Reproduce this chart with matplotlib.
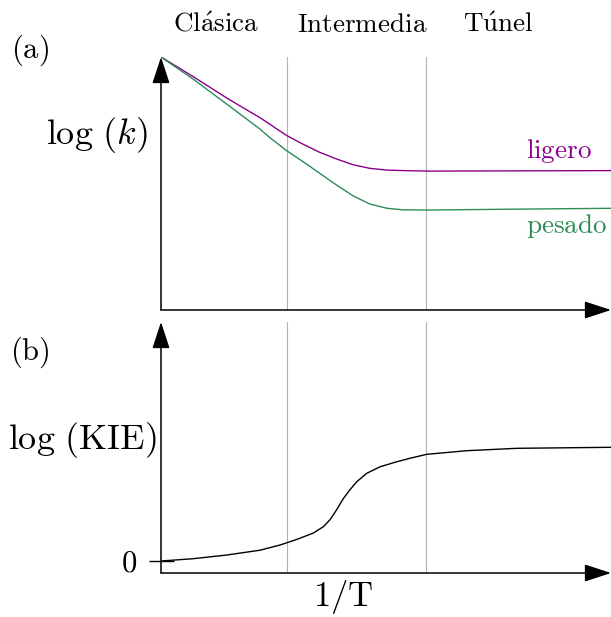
import numpy as np
import matplotlib
matplotlib.use("Agg")
import matplotlib.pyplot as plt

plt.rcParams['mathtext.fontset'] = 'cm'
plt.rcParams['font.family'] = ['cmr10', 'DejaVu Serif']

# 1/T axis runs 0..1, regime boundaries as vertical guides
regimes = [r'$\mathrm{Cl\acute{a}sica}$', r'$\mathrm{Intermedia}$', r'$\mathrm{T\acute{u}nel}$']
regime_x = [0.123, 0.448, 0.749]
bounds = [0.28, 0.589]

# (a) log(k) for light and heavy isotope
x_light = [0.0, 0.072, 0.146, 0.220, 0.242, 0.279, 0.316, 0.353, 0.390, 0.427, 0.464, 0.502,
           0.538, 0.598, 0.80, 1.0]
y_light = [1.0, 0.922, 0.838, 0.760, 0.734, 0.690, 0.655, 0.623, 0.597, 0.574, 0.560, 0.553,
           0.551, 0.549, 0.550, 0.551]
x_heavy = [0.0, 0.072, 0.146, 0.220, 0.242, 0.279, 0.316, 0.353, 0.390, 0.427, 0.464, 0.502,
           0.538, 0.598, 0.753, 1.0]
y_heavy = [1.0, 0.912, 0.814, 0.715, 0.681, 0.630, 0.586, 0.540, 0.494, 0.451, 0.419, 0.402,
           0.396, 0.395, 0.398, 0.402]

# (b) log(KIE)
x_kie = [0.0, 0.071, 0.147, 0.220, 0.264, 0.302, 0.338, 0.361, 0.376, 0.390, 0.405, 0.420,
         0.435, 0.457, 0.487, 0.524, 0.553, 0.590, 0.679, 0.790, 1.0]
y_kie = [0.0, 0.020, 0.053, 0.095, 0.140, 0.190, 0.245, 0.302, 0.365, 0.449, 0.548, 0.627,
         0.697, 0.771, 0.829, 0.873, 0.903, 0.938, 0.970, 0.991, 1.0]

purple = '#8b008b'
green = '#2e8b57'
grey = '#b3b3b3'

fig = plt.figure(figsize=(6.11, 6.17), dpi=100)
ax1 = fig.add_axes([161/611, 1 - 310/617, 450/611, 253/617])
ax2 = fig.add_axes([161/611, 1 - 573/617, 450/611, 251/617])

arrow = dict(arrowstyle='-|>,head_length=1.1,head_width=0.36', mutation_scale=15,
             color='k', lw=1.1, shrinkA=0, shrinkB=0)

for ax in (ax1, ax2):
    for s in ax.spines.values():
        s.set_visible(False)
    ax.set_xlim(0, 1)
    ax.set_xticks([])
    for b in bounds:
        ax.axvline(b, color=grey, lw=0.8, zorder=1)
    ax.annotate('', xy=(0, 1), xytext=(0, 0), xycoords='axes fraction',
                arrowprops=arrow, annotation_clip=False)
    ax.annotate('', xy=(1.0, 0), xytext=(0, 0), xycoords='axes fraction',
                arrowprops=arrow, annotation_clip=False)

ax1.set_ylim(0, 1)
ax1.set_yticks([])
ax1.plot(x_light, y_light, color=purple, lw=1.0, zorder=3)
ax1.plot(x_heavy, y_heavy, color=green, lw=1.0, zorder=3)
ax1.text(0.811, 0.601, r'$\mathrm{ligero}$', color=purple, fontsize=19.5, va='baseline')
ax1.text(0.811, 0.304, r'$\mathrm{pesado}$', color=green, fontsize=19.5, va='baseline')
for lab, xr in zip(regimes, regime_x):
    ax1.text(xr, 1.099, lab, fontsize=19.5, ha='center', va='baseline', clip_on=False)

ax2.set_ylim(-0.1055, 2.102)
ax2.plot(x_kie, y_kie, color='k', lw=1.0, zorder=3)
ax2.set_yticks([0])
ax2.set_yticklabels([r'$0$'], fontsize=22)
ax2.tick_params(axis='y', direction='inout', length=18, width=1.0, pad=8)

fig.text(0.049, 0.919, r'$\mathrm{(a)}$', fontsize=22, ha='center', va='center')
fig.text(0.049, 0.4295, r'$\mathrm{(b)}$', fontsize=22, ha='center', va='center')
fig.text(0.242, 0.781, r'$\log\,(k)$', fontsize=26, ha='right', va='center')
fig.text(0.257, 0.287, r'$\log\,(\mathrm{KIE})$', fontsize=26, ha='right', va='center')
fig.text(0.561, 0.033, r'$1/\mathrm{T}$', fontsize=25, ha='center', va='center')

fig.savefig('out.png', dpi=100)
